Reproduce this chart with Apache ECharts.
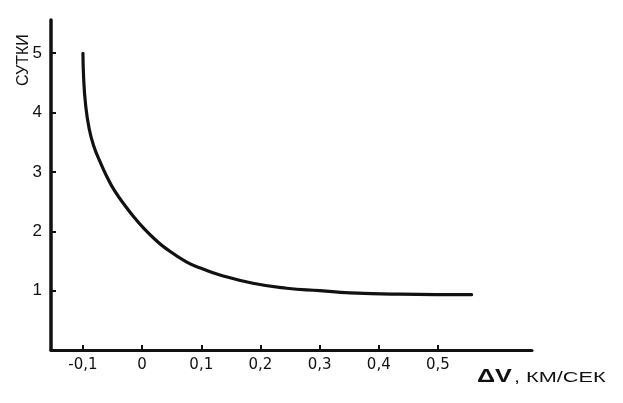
<!DOCTYPE html>
<html>
<head>
<meta charset="utf-8">
<script src="https://cdn.jsdelivr.net/npm/echarts@6/dist/echarts.min.js"></script>
<style>
html,body{margin:0;padding:0;background:#fff;}
#chart{width:623px;height:403px;}
</style>
</head>
<body>
<div id="chart"></div>
<script>
// Data
const dvValues = [-0.1, -0.0988, -0.0955, -0.0897, -0.0822, -0.071, -0.0595, -0.0463, -0.0281, -0.0116, 0.0034, 0.022, 0.0389, 0.0755, 0.1029, 0.1316, 0.1873, 0.2443, 0.3007, 0.3514, 0.4358, 0.5569];
const dayValues = [5.0, 4.58, 4.13, 3.74, 3.45, 3.17, 2.92, 2.68, 2.423, 2.214, 2.044, 1.862, 1.721, 1.482, 1.365, 1.264, 1.124, 1.04, 1.0, 0.964, 0.941, 0.932];
const xTicks = [-0.1, 0, 0.1, 0.2, 0.3, 0.4, 0.5];
const xTickLabels = ['-0,1', '0', '0,1', '0,2', '0,3', '0,4', '0,5'];
const yTicks = [1, 2, 3, 4, 5];
const yTickLabels = ['1', '2', '3', '4', '5'];
const yAxisTitle = 'СУТКИ';
const xAxisTitleMain = 'ΔV';
const xAxisTitleUnit = ', КМ/СЕК';

const chart = echarts.init(document.getElementById('chart'), null, {renderer: 'canvas'});
const font = '"Liberation Sans", Arial, sans-serif';
const wideFont = '"DejaVu Sans", sans-serif';
const ink = '#111';

function xLabel(v) {
  const i = xTicks.findIndex(t => Math.abs(t - v) < 1e-6);
  return i >= 0 ? xTickLabels[i] : '';
}
function yLabel(v) {
  const i = yTicks.findIndex(t => Math.abs(t - v) < 1e-6);
  return i >= 0 ? yTickLabels[i] : '';
}

chart.setOption({
  animation: false,
  backgroundColor: '#fff',
  grid: {left: 51, right: 91, top: 20, bottom: 53, containLabel: false, outerBoundsMode: 'none'},
  xAxis: {
    type: 'value',
    min: -0.154,
    max: 0.659,
    splitLine: {show: false},
    axisLine: {show: true, onZero: false, lineStyle: {color: ink, width: 3}},
    axisTick: {show: true, inside: true, length: 5, lineStyle: {color: ink, width: 2}, customValues: xTicks},
    axisLabel: {
      customValues: xTicks,
      formatter: xLabel,
      color: ink, fontFamily: wideFont, fontSize: 15, margin: 8
    }
  },
  yAxis: {
    type: 'value',
    min: 0,
    max: 5.56,
    splitLine: {show: false},
    axisLine: {show: true, onZero: false, lineStyle: {color: ink, width: 3.5}},
    axisTick: {show: true, inside: true, length: 5, lineStyle: {color: ink, width: 2}, customValues: yTicks},
    axisLabel: {
      customValues: yTicks,
      formatter: yLabel,
      color: ink, fontFamily: font, fontSize: 17, margin: 9
    }
  },
  series: [{
    type: 'line',
    data: dvValues.map((v, i) => [v, dayValues[i]]),
    smooth: 0.5,
    showSymbol: false,
    lineStyle: {color: ink, width: 3.2, cap: 'round'}
  }],
  graphic: [
    {
      type: 'text',
      x: 16, y: 86,
      rotation: Math.PI / 2,
      style: {text: yAxisTitle, fill: ink, font: '16px ' + font, letterSpacing: 3.5}
    },
    {
      type: 'text',
      x: 477, y: 368,
      scaleX: 1.4,
      style: {text: xAxisTitleMain, fill: ink, font: 'bold 18px ' + font}
    },
    {
      type: 'text',
      x: 514, y: 371,
      scaleX: 1.55,
      style: {text: xAxisTitleUnit, fill: ink, font: '14px ' + font}
    }
  ]
});
</script>
</body>
</html>
